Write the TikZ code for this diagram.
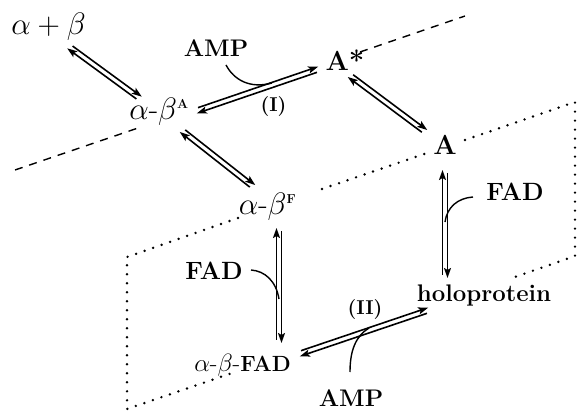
\RequirePackage{fix-cm}
\documentclass[tikz,border=0pt]{standalone}
\usetikzlibrary{arrows.meta,calc}

\tikzset{
  lbl/.style={inner sep=0pt, anchor=base},
  mth/.style={lbl, font=\fontsize{31}{31}\selectfont},
  bld/.style={lbl, font=\fontsize{25}{25}\selectfont\bfseries},
  ampfont/.style={lbl, font=\fontsize{24}{24}\selectfont\bfseries},
  bigbld/.style={lbl, font=\fontsize{27.5}{27.5}\selectfont\bfseries},
  stepno/.style={lbl, font=\fontsize{20}{20}\selectfont\bfseries},
  rxn/.style={line width=1.6pt, shorten <=3pt,
    -{Stealth[length=10pt,width=7pt,inset=2pt]}},
  cat/.style={line width=1.4pt},
  plane/.style={line width=2.7pt, line cap=round, dash pattern=on 0pt off 9pt},
  seam/.style={line width=1.4pt, dash pattern=on 8pt off 7pt},
}

% half-gap between the two lines of an equilibrium arrow
\newcommand\rxnoff{2.5pt}
% equilibrium arrow between two named points: each line sits to the left
% of its own direction of travel
\newcommand\eqarrow[2]{%
  \draw[rxn] ($(#1)!\rxnoff!90:(#2)$) -- ($(#2)!\rxnoff!-90:(#1)$);
  \draw[rxn] ($(#2)!\rxnoff!90:(#1)$) -- ($(#1)!\rxnoff!-90:(#2)$);
}
\newcommand\tinysup[1]{\mbox{\fontsize{13}{13}\selectfont\bfseries #1}}

\begin{document}
\begin{tikzpicture}[x=1pt,y=-1pt]
\useasboundingbox (0,0) rectangle (578,411);

% species
\node[mth] (ab)    at (48.5,35)  {$\alpha+\beta$};
\node[mth] (abA)   at (159,120)  {$\alpha$-$\beta^{\tinysup{A}}$};
\node[bigbld] (Astar) at (345,71) {A*};
\node[bigbld] (A)  at (445,155)  {A};
\node[mth] (abF)   at (267.5,215) {$\alpha$-$\beta^{\tinysup{F}}$};
\node[lbl, font=\fontsize{25}{25}\selectfont] (abFAD) at (242.5,371)
  {$\alpha$-$\beta$-{\fontsize{22}{22}\selectfont\bfseries FAD}};
\node[lbl, font=\fontsize{24}{24}\selectfont\bfseries] (holo) at (484,302) {holoprotein};

% cofactors and step labels
\node[ampfont] (amp1) at (216,57) {AMP};
\node[ampfont] (amp2) at (351,406) {AMP};
\node[bld] (fad1) at (214,280)  {FAD};
\node[bld] (fad2) at (515,201)  {FAD};
\node[stepno] (labI)  at (273.5,112) {(I)};
\node[stepno] (labII) at (365,315)   {(II)};

% dashed seam through the upper plane
\coordinate (s1) at (15,170);  \coordinate (s2) at (141,127);
\coordinate (s3) at (360,52);  \coordinate (s4) at (465,16);
\draw[seam] (s1) -- (s2);
\draw[seam] (s3) -- (s4);

% dotted lower plane
\coordinate (p1) at (127,257); \coordinate (p2) at (238,218);
\coordinate (p3) at (322,189); \coordinate (p4) at (430,152);
\coordinate (p5) at (465,140); \coordinate (p6) at (575,102);
\coordinate (p7) at (575,256); \coordinate (p8) at (515,277);
\coordinate (p9) at (238,371); \coordinate (p10) at (127,409);
\draw[plane] (p2) -- (p1) -- (p10) -- (p9);
\draw[plane] (p3) -- (p4);
\draw[plane] (p5) -- (p6) -- (p7) -- (p8);

% ends of the equilibrium arrows
\coordinate (r1a) at (68.7,46.3);  \coordinate (r1b) at (140.3,98.7);
\coordinate (r2a) at (196,111);    \coordinate (r2b) at (319,69);
\coordinate (r3a) at (349.3,75);   \coordinate (r3b) at (425.7,132);
\coordinate (r4a) at (181.3,130);  \coordinate (r4b) at (253.7,187);
\coordinate (r5a) at (279,228);    \coordinate (r5b) at (279,343);
\coordinate (r6a) at (445,170);    \coordinate (r6b) at (445,278);
\coordinate (r7a) at (299,354);    \coordinate (r7b) at (429,310);

\eqarrow{r1b}{r1a}
\eqarrow{r2b}{r2a}
\eqarrow{r3b}{r3a}
\eqarrow{r4b}{r4a}
\eqarrow{r5b}{r5a}
\eqarrow{r6b}{r6a}
\eqarrow{r7b}{r7a}

% cofactor entry curves
\coordinate (c1a) at (226,65);  \coordinate (c1b) at (272,83);
\coordinate (c2a) at (251,270); \coordinate (c2b) at (279,299);
\coordinate (c3a) at (473,197); \coordinate (c3b) at (445,222);
\coordinate (c4a) at (350,372); \coordinate (c4b) at (369,328);
\draw[cat] (c1a) .. controls (234,80) and (250,89) .. (c1b);
\draw[cat] (c2a) .. controls (265,271) and (276,281) .. (c2b);
\draw[cat] (c3a) .. controls (458,198) and (447,207) .. (c3b);
\draw[cat] (c4a) .. controls (350,350) and (356,336) .. (c4b);
\end{tikzpicture}
\end{document}
